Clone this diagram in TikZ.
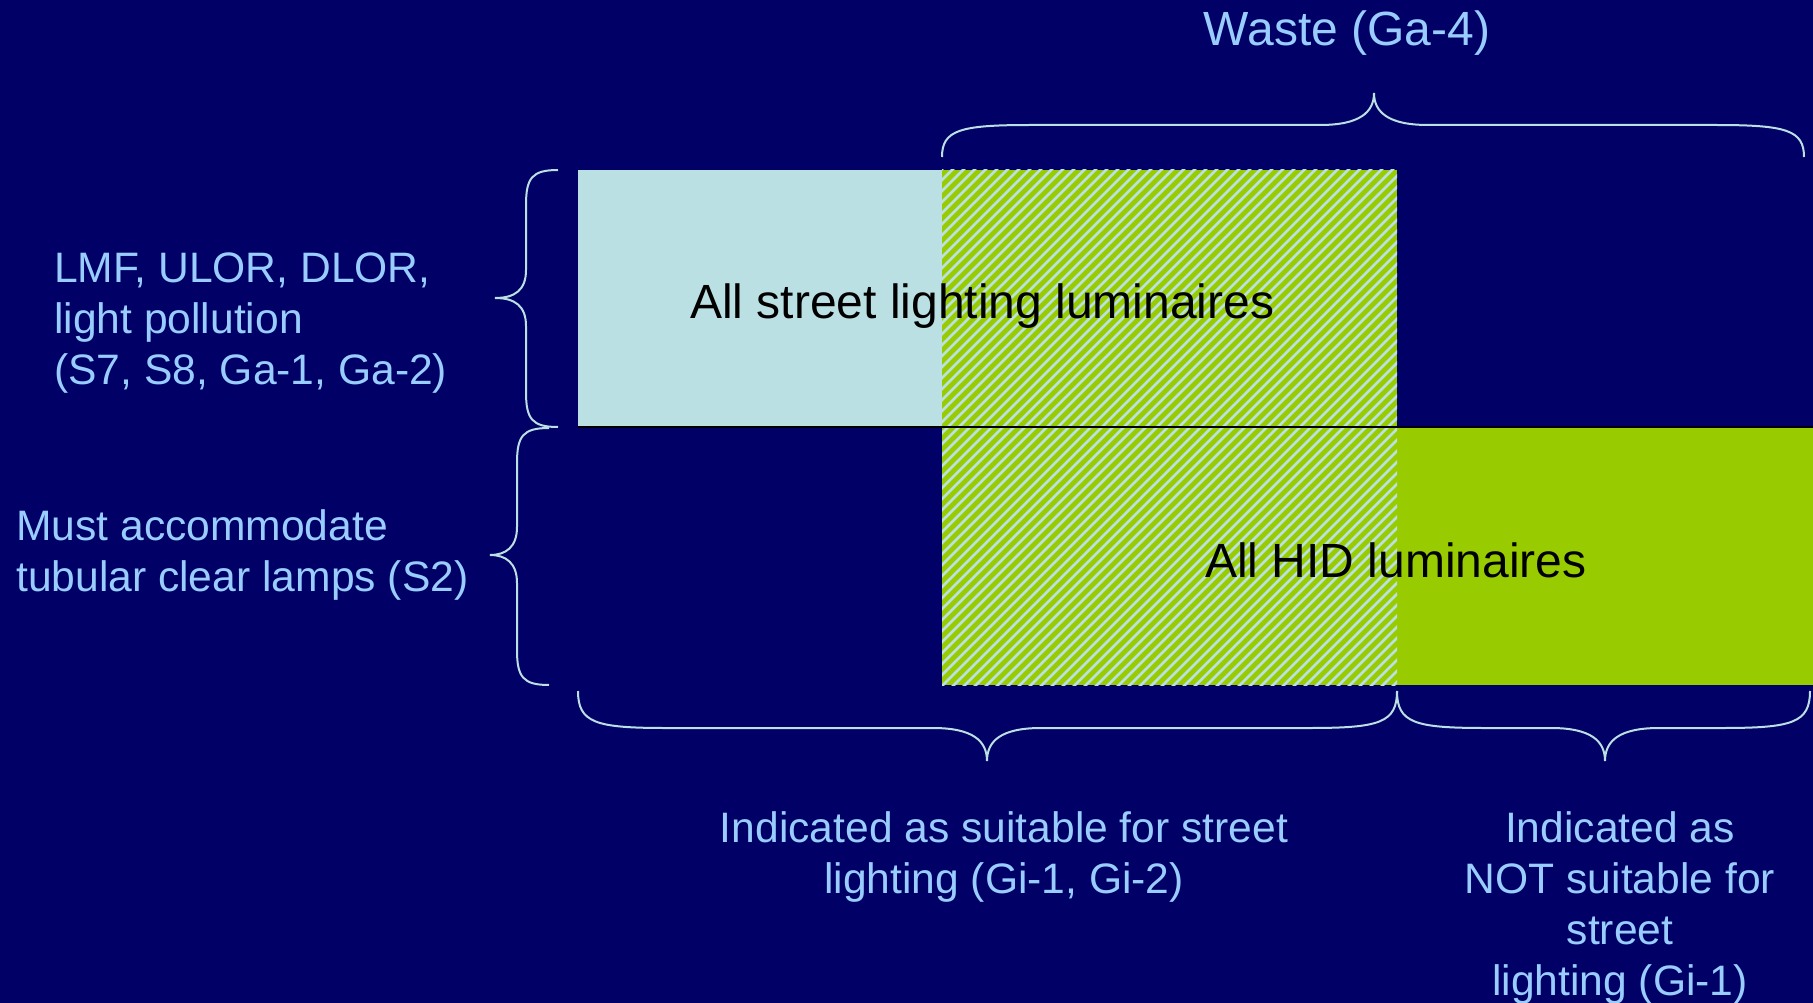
\documentclass[tikz,border=0pt]{standalone}
\usepackage{fontspec}
\setmainfont{Liberation Sans}
\definecolor{bgnavy}{HTML}{000066}
\definecolor{lcyan}{HTML}{BBE0E3}
\definecolor{lgreen}{HTML}{99CC00}
\definecolor{txtblue}{HTML}{99CCFF}
\definecolor{bracecol}{HTML}{BBE0E3}
\begin{document}
\begin{tikzpicture}[x=1pt,y=-1pt,
  lbl/.style={text=txtblue, font=\fontsize{42.6}{51}\selectfont, inner sep=0pt},
  biglbl/.style={text=txtblue, font=\fontsize{48}{57}\selectfont, inner sep=0pt},
  boxlbl/.style={text=black, font=\fontsize{48}{57}\selectfont, inner sep=0pt},
  brc/.style={draw=bracecol, line width=2pt},
  boxshape/.style={draw=none, inner sep=0pt, outer sep=0pt, anchor=north west},
  hatchline/.style={draw=lcyan, line width=2.6pt}]
\fill[bgnavy] (0,0) rectangle (1813,1003);
\useasboundingbox (0,0) rectangle (1813,1003);

% boxes
\node[boxshape, fill=lcyan, minimum width=819pt, minimum height=257pt] (street) at (578,170) {};
\node[boxshape, fill=lgreen, minimum width=871pt, minimum height=257pt] (hid) at (942,428) {};

% hatched overlap
\begin{scope}
  \clip (942,170) rectangle (1397,685);
  \fill[lgreen] (942,170) rectangle (1397,685);
  \foreach \k in {-532,-521,...,470}{
    \draw[hatchline] (942+\k,690) -- ++(525,-525);
  }
\end{scope}

% separator line
\draw[black, line width=2pt] (street.south west) -- (1813,427);

% braces
\draw[brc] (942,157) .. controls (942,130) and (960,125) .. (1030,125) -- (1320,125)
  .. controls (1360,125) and (1374,112) .. (1374,93)
  .. controls (1374,112) and (1388,125) .. (1428,125) -- (1716,125)
  .. controls (1786,125) and (1804,130) .. (1804,157);
\draw[brc] (578,691) .. controls (578,723) and (596,728) .. (666,728) -- (933,728)
  .. controls (973,728) and (987,741) .. (987,761)
  .. controls (987,741) and (1001,728) .. (1041,728) -- (1309,728)
  .. controls (1379,728) and (1397,723) .. (1397,691);
\draw[brc] (1397,691) .. controls (1397,723) and (1415,728) .. (1485,728) -- (1551,728)
  .. controls (1591,728) and (1605,741) .. (1605,761)
  .. controls (1605,741) and (1619,728) .. (1659,728) -- (1722,728)
  .. controls (1792,728) and (1810,723) .. (1810,691);
\draw[brc] (558,170) .. controls (532,170) and (526,178) .. (526,205) -- (526,270)
  .. controls (526,290) and (515,298) .. (495,298)
  .. controls (515,298) and (526,306) .. (526,326) -- (526,392)
  .. controls (526,419) and (532,427) .. (558,427);
\draw[brc] (549,428) .. controls (523,428) and (517,436) .. (517,463) -- (517,527)
  .. controls (517,547) and (506,555) .. (490,555)
  .. controls (506,555) and (517,563) .. (517,583) -- (517,650)
  .. controls (517,677) and (523,685) .. (549,685);

% labels
\node[biglbl] (waste) at (1347,33) {Waste (Ga-4)};
\node[lbl, anchor=west, align=left] (optics) at (54,323) {LMF, ULOR, DLOR,\\light pollution\\(S7, S8, Ga-1, Ga-2)};
\node[lbl, anchor=west, align=left] (lamps) at (16,555) {Must accommodate\\tubular clear lamps (S2)};
\node[boxlbl, anchor=west] (streetlbl) at (690,306) {All street lighting luminaires};
\node[boxlbl, anchor=west] (hidlbl) at (1205,560) {All HID luminaires};
\node[lbl, align=center] (suit) at (1004,857) {Indicated as suitable for street\\lighting (Gi-1, Gi-2)};
\node[lbl, align=center] (notsuit) at (1620,908) {Indicated as\\NOT suitable for\\street\\lighting (Gi-1)};
\end{tikzpicture}
\end{document}
